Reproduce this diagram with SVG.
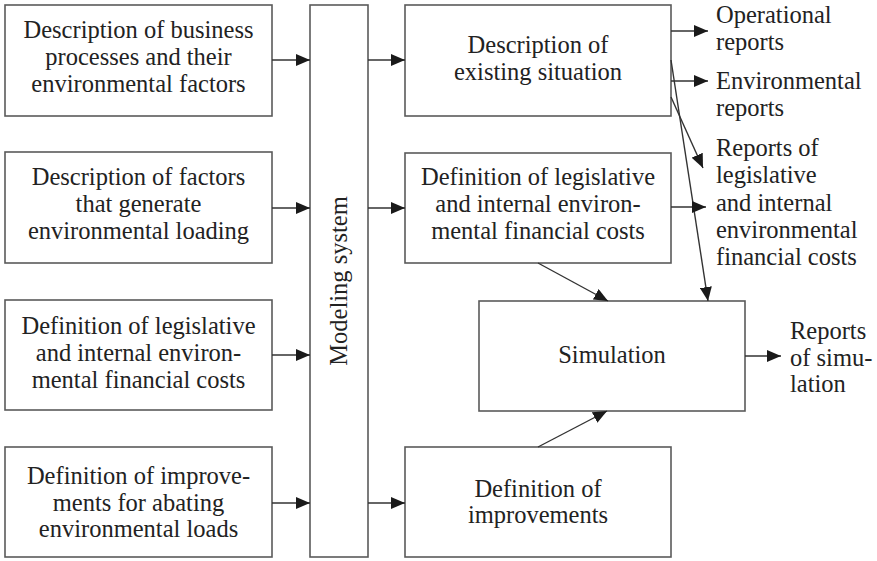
<svg xmlns="http://www.w3.org/2000/svg" width="877" height="561" viewBox="0 0 877 561">
  <defs>
    <marker id="arrow" viewBox="0 0 14 12" refX="14" refY="6" markerWidth="14" markerHeight="12" markerUnits="userSpaceOnUse" orient="auto">
      <path d="M0,0 L14,6 L0,12 Z" fill="#1a1a1a"/>
    </marker>
  </defs>
  <rect width="877" height="561" fill="#ffffff"/>

  <!-- input blocks -->
  <g id="in-business">
    <rect x="5" y="5" width="267" height="111" fill="#ffffff" stroke="#5a5a5a" stroke-width="1.6"/>
    <text font-family="Liberation Serif" font-size="24.5" fill="#222222" text-anchor="middle" x="138.5" y="38">Description of business</text>
    <text font-family="Liberation Serif" font-size="24.5" fill="#222222" text-anchor="middle" x="138.5" y="65">processes and their</text>
    <text font-family="Liberation Serif" font-size="24.5" fill="#222222" text-anchor="middle" x="138.5" y="92">environmental factors</text>
  </g>
  <g id="in-factors">
    <rect x="5" y="152" width="267" height="111" fill="#ffffff" stroke="#5a5a5a" stroke-width="1.6"/>
    <text font-family="Liberation Serif" font-size="24.5" fill="#222222" text-anchor="middle" x="138.5" y="185">Description of factors</text>
    <text font-family="Liberation Serif" font-size="24.5" fill="#222222" text-anchor="middle" x="138.5" y="212">that generate</text>
    <text font-family="Liberation Serif" font-size="24.5" fill="#222222" text-anchor="middle" x="138.5" y="239">environmental loading</text>
  </g>
  <g id="in-costs">
    <rect x="5" y="300" width="267" height="110" fill="#ffffff" stroke="#5a5a5a" stroke-width="1.6"/>
    <text font-family="Liberation Serif" font-size="24.5" fill="#222222" text-anchor="middle" x="138.5" y="334">Definition of legislative</text>
    <text font-family="Liberation Serif" font-size="24.5" fill="#222222" text-anchor="middle" x="138.5" y="361">and internal environ-</text>
    <text font-family="Liberation Serif" font-size="24.5" fill="#222222" text-anchor="middle" x="138.5" y="388">mental financial costs</text>
  </g>
  <g id="in-improvements">
    <rect x="5" y="447" width="267" height="110" fill="#ffffff" stroke="#5a5a5a" stroke-width="1.6"/>
    <text font-family="Liberation Serif" font-size="24.5" fill="#222222" text-anchor="middle" x="138.5" y="484">Definition of improve-</text>
    <text font-family="Liberation Serif" font-size="24.5" fill="#222222" text-anchor="middle" x="138.5" y="511">ments for abating</text>
    <text font-family="Liberation Serif" font-size="24.5" fill="#222222" text-anchor="middle" x="138.5" y="537">environmental loads</text>
  </g>

  <!-- central modeling block -->
  <g id="modeling-system">
    <rect x="310" y="5" width="58" height="552" fill="#ffffff" stroke="#5a5a5a" stroke-width="1.6"/>
    <text font-family="Liberation Serif" font-size="24.5" fill="#222222" text-anchor="middle" transform="translate(347,281) rotate(-90)" x="0" y="0">Modeling system</text>
  </g>

  <!-- output blocks -->
  <g id="existing-situation">
    <rect x="405" y="5" width="266" height="111" fill="#ffffff" stroke="#5a5a5a" stroke-width="1.6"/>
    <text font-family="Liberation Serif" font-size="24.5" fill="#222222" text-anchor="middle" x="538" y="53">Description of</text>
    <text font-family="Liberation Serif" font-size="24.5" fill="#222222" text-anchor="middle" x="538" y="80">existing situation</text>
  </g>
  <g id="costs">
    <rect x="405" y="153" width="266" height="110" fill="#ffffff" stroke="#5a5a5a" stroke-width="1.6"/>
    <text font-family="Liberation Serif" font-size="24.5" fill="#222222" text-anchor="middle" x="538" y="185">Definition of legislative</text>
    <text font-family="Liberation Serif" font-size="24.5" fill="#222222" text-anchor="middle" x="538" y="212">and internal environ-</text>
    <text font-family="Liberation Serif" font-size="24.5" fill="#222222" text-anchor="middle" x="538" y="239">mental financial costs</text>
  </g>
  <g id="improvements">
    <rect x="405" y="447" width="266" height="110" fill="#ffffff" stroke="#5a5a5a" stroke-width="1.6"/>
    <text font-family="Liberation Serif" font-size="24.5" fill="#222222" text-anchor="middle" x="538" y="497">Definition of</text>
    <text font-family="Liberation Serif" font-size="24.5" fill="#222222" text-anchor="middle" x="538" y="523">improvements</text>
  </g>
  <g id="simulation">
    <rect x="479" y="301" width="266" height="110" fill="#ffffff" stroke="#5a5a5a" stroke-width="1.6"/>
    <text font-family="Liberation Serif" font-size="24.5" fill="#222222" text-anchor="middle" x="612" y="363">Simulation</text>
  </g>

  <!-- report labels -->
  <g id="operational-reports">
    <text font-family="Liberation Serif" font-size="24.5" fill="#222222" x="716" y="23">Operational</text>
    <text font-family="Liberation Serif" font-size="24.5" fill="#222222" x="716" y="50">reports</text>
  </g>
  <g id="environmental-reports">
    <text font-family="Liberation Serif" font-size="24.5" fill="#222222" x="716" y="89">Environmental</text>
    <text font-family="Liberation Serif" font-size="24.5" fill="#222222" x="716" y="116">reports</text>
  </g>
  <g id="cost-reports">
    <text font-family="Liberation Serif" font-size="24.5" fill="#222222" x="716" y="156">Reports of</text>
    <text font-family="Liberation Serif" font-size="24.5" fill="#222222" x="716" y="183">legislative</text>
    <text font-family="Liberation Serif" font-size="24.5" fill="#222222" x="716" y="211">and internal</text>
    <text font-family="Liberation Serif" font-size="24.5" fill="#222222" x="716" y="238">environmental</text>
    <text font-family="Liberation Serif" font-size="24.5" fill="#222222" x="716" y="265">financial costs</text>
  </g>
  <g id="simulation-reports">
    <text font-family="Liberation Serif" font-size="24.5" fill="#222222" x="790" y="339">Reports</text>
    <text font-family="Liberation Serif" font-size="24.5" fill="#222222" x="790" y="366">of simu-</text>
    <text font-family="Liberation Serif" font-size="24.5" fill="#222222" x="790" y="392">lation</text>
  </g>

  <!-- connectors -->
  <g id="connectors" fill="none" stroke="#333333" stroke-width="1.4">
    <line marker-end="url(#arrow)" x1="272" y1="60" x2="310" y2="60"/>
    <line marker-end="url(#arrow)" x1="272" y1="208" x2="310" y2="208"/>
    <line marker-end="url(#arrow)" x1="272" y1="355" x2="310" y2="355"/>
    <line marker-end="url(#arrow)" x1="272" y1="503" x2="310" y2="503"/>

    <line marker-end="url(#arrow)" x1="368" y1="60" x2="405" y2="60"/>
    <line marker-end="url(#arrow)" x1="368" y1="208" x2="405" y2="208"/>
    <line marker-end="url(#arrow)" x1="368" y1="503" x2="405" y2="503"/>

    <line marker-end="url(#arrow)" x1="671" y1="31" x2="708" y2="31"/>
    <line marker-end="url(#arrow)" x1="671" y1="81" x2="708" y2="81"/>
    <line marker-end="url(#arrow)" x1="671" y1="97" x2="703" y2="168"/>
    <line marker-end="url(#arrow)" x1="671" y1="60" x2="708" y2="301"/>
    <line marker-end="url(#arrow)" x1="671" y1="207" x2="706" y2="207"/>

    <line marker-end="url(#arrow)" x1="538" y1="263" x2="608" y2="301"/>
    <line marker-end="url(#arrow)" x1="538" y1="447" x2="607" y2="411"/>

    <line marker-end="url(#arrow)" x1="745" y1="356" x2="781" y2="356"/>
  </g>
</svg>
